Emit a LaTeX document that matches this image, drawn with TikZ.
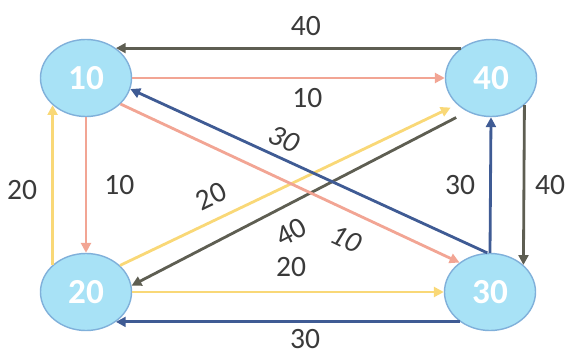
\documentclass[tikz,border=0pt]{standalone}
\usepackage{fontspec}
\setmainfont{Carlito}
\usetikzlibrary{
arrows.meta,
shapes.geometric
}
\definecolor{stateFill}{HTML}{A8E2F6}
\definecolor{stateLine}{HTML}{80B0DA}
\definecolor{linkSalmon}{HTML}{F2A594}
\definecolor{linkYellow}{HTML}{F9D877}
\definecolor{linkGray}{HTML}{5E5E52}
\definecolor{linkBlue}{HTML}{3F5B94}
\definecolor{weightText}{HTML}{3A3A3A}

\begin{document}
\begin{tikzpicture}[
    x=0.025cm,
    y=0.025cm,
    font=\fontsize{21}{24}\selectfont,
    state/.style={
        ellipse,
        fill=stateFill,
        draw=stateLine,
        line width=1pt,
        minimum width=2.275cm,
        minimum height=1.925cm,
        inner sep=0pt,
        text=white,
        font=\bfseries\fontsize{25}{28}\selectfont
    },
    link/.style={
        line width=2pt,
        -{Triangle[length=7pt,width=7pt]}
    },
    weight/.style={
        text=weightText,
        inner sep=2pt
    }
]

% Frame
\useasboundingbox (0,0) rectangle (566,351);

% States
\foreach \name/\x/\y in {
10/86/273,
40/491/273,
20/86/59,
30/490/59
}{
    \node[state] (n\name) at (\x,\y) {\name};
}

% Top and bottom rows
\draw[link, linkGray]
(n40.135) -- node[weight, above=6pt, pos=0.45] {40} (n10.45);

\draw[link, linkSalmon]
(n10.east) -- node[weight, below=4pt, pos=0.56] {10} (n40.west);

\draw[link, linkYellow]
(n20.east) -- node[weight, above=8pt, pos=0.51] {20} (n30.west);

\draw[link, linkBlue]
(n30.225) -- node[weight, below=2.5pt, pos=0.45] {30} (n20.315);

% Left and right columns
\draw[link, linkSalmon]
(n10.south) -- node[weight, right=10pt, pos=0.5] {10} (n20.north);

\draw[link, linkYellow]
(n20.141) -- node[weight, left=8pt, pos=0.47] {20} (n10.219);

\draw[link, linkBlue]
(n30.north) -- node[weight, left=8pt, pos=0.5] {30} (n40.south);

\draw[link, linkGray]
(n40.321) -- node[weight, right=5pt, pos=0.5] {40} (n30.39);

% Diagonals
\draw[link, linkYellow, shorten >=5pt]
(n20.38) -- node[weight, sloped, above=6.5pt, pos=0.3] {20} (n40.218);

\draw[link, linkGray, shorten <=9pt]
(n40.235) -- node[weight, sloped, below=8.5pt, pos=0.56] {40} (n20.8);

\draw[link, linkSalmon]
(n10.323) -- node[weight, sloped, below=9pt, pos=0.7] {\itshape 10} (n30.136);

\draw[link, linkBlue]
(n30.94) -- node[weight, sloped, above=3.5pt, pos=0.59] {\itshape 30} (n10.346);

\end{tikzpicture}
\end{document}
